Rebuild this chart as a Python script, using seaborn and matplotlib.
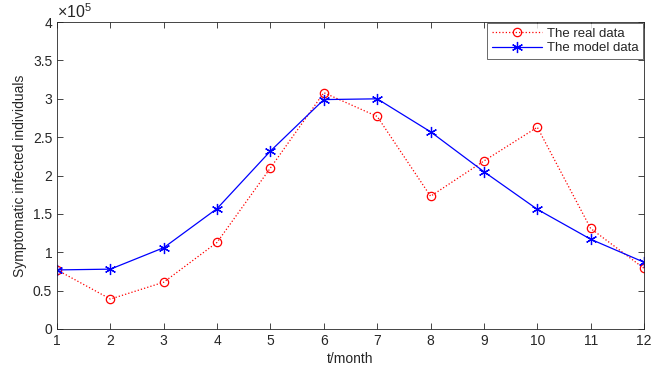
import matplotlib
matplotlib.use("Agg")
import matplotlib.pyplot as plt
import seaborn as sns
import pandas as pd

months = [1, 2, 3, 4, 5, 6, 7, 8, 9, 10, 11, 12]
real_data = [0.77e5, 0.39e5, 0.61e5, 1.13e5, 2.10e5, 3.08e5, 2.77e5, 1.73e5, 2.19e5, 2.63e5, 1.31e5, 0.79e5]
model_data = [0.77e5, 0.78e5, 1.06e5, 1.57e5, 2.32e5, 2.99e5, 3.00e5, 2.57e5, 2.05e5, 1.56e5, 1.17e5, 0.87e5]
x_ticks = months
y_ticks = [0, 0.5e5, 1e5, 1.5e5, 2e5, 2.5e5, 3e5, 3.5e5, 4e5]
y_tick_labels = ["0", "0.5", "1", "1.5", "2", "2.5", "3", "3.5", "4"]

sns.set_style("ticks")
plt.rcParams['font.family'] = ['Liberation Sans', 'DejaVu Sans']
plt.rcParams['mathtext.fontset'] = 'custom'
plt.rcParams['mathtext.rm'] = 'Liberation Sans'
plt.rcParams['xtick.direction'] = 'in'
plt.rcParams['ytick.direction'] = 'in'

df = pd.DataFrame({"month": months, "real": real_data, "model": model_data})

fig = plt.figure(figsize=(6.51, 3.72), dpi=100)
ax = fig.add_axes([0.0876, 0.1156, 0.9017, 0.825])

sns.lineplot(data=df, x="month", y="real", ax=ax, color="red", linestyle=":",
             linewidth=0.9, marker="o", markersize=6, markerfacecolor="none",
             markeredgecolor="red", markeredgewidth=0.9, label="The real data")
sns.lineplot(data=df, x="month", y="model", ax=ax, color="blue", linestyle="-",
             linewidth=0.9, marker=(6, 2, 0), markersize=8,
             markeredgecolor="blue", markeredgewidth=0.9, label="The model data")

ax.set_xlim(1, 12)
ax.set_ylim(0, 4e5)
ax.set_xticks(x_ticks)
ax.set_yticks(y_ticks)
ax.set_yticklabels(y_tick_labels)
ax.text(0.0, 1.005, r"$\times 10^{5}$", transform=ax.transAxes, fontsize=11.5,
        ha="left", va="bottom", color="#262626")
ax.tick_params(labelsize=10, top=True, right=True, length=4, width=0.6, colors="#262626")
for s in ax.spines.values():
    s.set_linewidth(0.6)
    s.set_color("#262626")
    s.set_visible(True)
ax.set_xlabel("t/month", fontsize=10, labelpad=3)
ax.set_ylabel("Symptomatic infected individuals", fontsize=10)
leg = ax.legend(loc="upper right", fontsize=9.5, frameon=True, fancybox=False,
                edgecolor="#262626", borderaxespad=0.05, handlelength=3.8,
                handletextpad=0.4, borderpad=0.35, labelspacing=0.2)
leg.get_frame().set_linewidth(0.6)

fig.savefig("out.png", dpi=100)
